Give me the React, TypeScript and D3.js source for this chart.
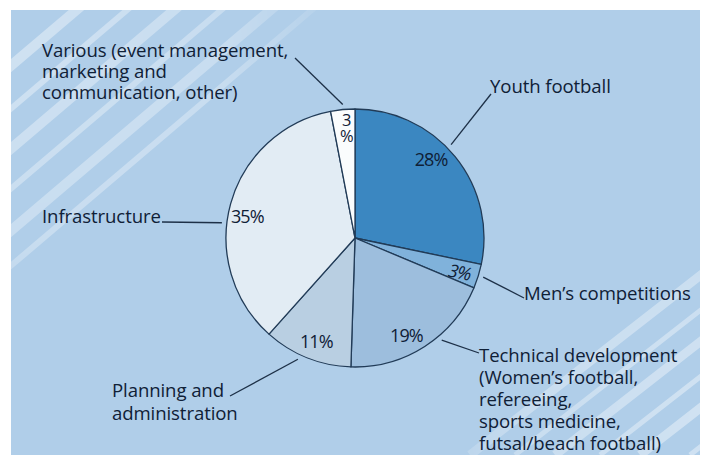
import React from 'react';
import * as d3 from 'd3';

// budget shares in percent, clockwise from 12 o'clock
const categories = [
  'Youth football',
  'Men’s competitions',
  'Technical development',
  'Planning and administration',
  'Infrastructure',
  'Various',
];
const shares = [28, 3, 19, 11, 35, 3];
const labelLines = [
  ['Youth football'],
  ['Men’s competitions'],
  ['Technical development', '(Women’s football,', 'refereeing,', 'sports medicine,', 'futsal/beach football)'],
  ['Planning and', 'administration'],
  ['Infrastructure'],
  ['Various (event management,', 'marketing and', 'communication, other)'],
];
const fills = ['#3b87c1', '#80b2db', '#9dbedd', '#b9cfe2', '#e2ecf4', '#fafcfd'];

// label placement: fraction along each slice for leader and percent, leader end, text anchor
const layout = [
  { leaderFrac: 0.45, pctFrac: 0.43, end: [491, 94], text: [490, 93], lh: 22 },
  { leaderFrac: 0.47, pctFrac: 0.55, end: [524, 298], text: [524, 300], lh: 22 },
  { leaderFrac: 0.39, pctFrac: 0.57, end: [479, 353], text: [479, 362], lh: 22 },
  { leaderFrac: 0.585, pctFrac: 0.47, end: [230, 396], text: [112, 397], lh: 23 },
  { leaderFrac: 0.43, pctFrac: 0.47, end: [162, 222], text: [42, 223], lh: 22 },
  { leaderFrac: 0.52, pctFrac: 0.61, end: [295, 58], text: [42, 57], lh: 21 },
];

const topLeftStripes = [75, 118, 158, 198, 240, 275];
const bottomRightStripes = [470, 515, 555, 600, 640, 690, 735, 780];

const W = 707;
const H = 455;
const cx = 355;
const cy = 238;
const R = 129;
const ink = '#0f2036';

const polar = (a: number, r: number) => [cx + r * Math.sin(a), cy - r * Math.cos(a)];

const App = () => {
  const pie = d3.pie<number>().sort(null).value((d) => d);
  const arcs = pie(shares);
  const arc = d3.arc<d3.PieArcDatum<number>>().innerRadius(0).outerRadius(R);
  const slopeTL = 0.85;
  const slopeBR = 0.78;

  return (
    <svg width={W} height={H} style={{ position: 'absolute', left: 0, top: 0 }}>
      <defs>
        <clipPath id="bg">
          <rect x={11} y={10} width={689} height={H - 10} />
        </clipPath>
        <radialGradient id="fadeTL" cx={20} cy={40} r={340} gradientUnits="userSpaceOnUse">
          <stop offset="0" stopColor="#fff" stopOpacity="1" />
          <stop offset="0.6" stopColor="#fff" stopOpacity="0.75" />
          <stop offset="1" stopColor="#fff" stopOpacity="0" />
        </radialGradient>
        <radialGradient id="fadeBR" cx={720} cy={420} r={320} gradientUnits="userSpaceOnUse">
          <stop offset="0" stopColor="#fff" stopOpacity="1" />
          <stop offset="0.6" stopColor="#fff" stopOpacity="0.75" />
          <stop offset="1" stopColor="#fff" stopOpacity="0" />
        </radialGradient>
        <mask id="mTL"><rect width={W} height={H} fill="url(#fadeTL)" /></mask>
        <mask id="mBR"><rect width={W} height={H} fill="url(#fadeBR)" /></mask>
      </defs>
      <rect width={W} height={H} fill="#fff" />
      <g clipPath="url(#bg)">
        <rect x={11} y={10} width={689} height={H - 10} fill="#b0cee9" />
        <g mask="url(#mTL)">
          {topLeftStripes.map((c, i) => (
            <line key={c} x1={0} y1={c} x2={c / slopeTL} y2={0}
              stroke="#fff" strokeOpacity={0.4} strokeWidth={i % 2 ? 6 : 10} />
          ))}
        </g>
        <g mask="url(#mBR)">
          {bottomRightStripes.map((c, i) => (
            <line key={c} x1={c} y1={H} x2={c + H / slopeBR} y2={0}
              stroke="#fff" strokeOpacity={0.42} strokeWidth={i % 2 ? 5 : 9} />
          ))}
        </g>
      </g>

      <g transform={`translate(${cx},${cy})`}>
        {arcs.map((a, i) => (
          <path key={categories[i]} d={arc(a) as string} fill={fills[i]}
            stroke="#213b57" strokeWidth={1.3} strokeLinejoin="round" />
        ))}
      </g>

      <g fontFamily="'Open Sans', sans-serif" fill={ink}>
        {arcs.map((a, i) => {
          const l = layout[i];
          const la = a.startAngle + (a.endAngle - a.startAngle) * l.leaderFrac;
          const [x1, y1] = polar(la, 134);
          const pa = a.startAngle + (a.endAngle - a.startAngle) * l.pctFrac;
          const [px, py] = polar(pa, 110);
          const pct = `${shares[i]}%`;
          return (
            <g key={categories[i]}>
              <line x1={x1} y1={y1} x2={l.end[0]} y2={l.end[1]} stroke="#1d3047" strokeWidth={1.3} />
              <text fontSize={18.6} letterSpacing={-0.1}>
                {labelLines[i].map((t, j) => (
                  <tspan key={t} x={l.text[0]} y={l.text[1] + j * l.lh}>{t}</tspan>
                ))}
              </text>
              {i === 5 ? (
                <g fontSize={16.5} textAnchor="middle">
                  <text x={px} y={py - 2}>{String(shares[i])}</text>
                  <text x={px} y={py + 14}>%</text>
                </g>
              ) : (
                <text
                  x={px}
                  y={py}
                  fontSize={18}
                  textAnchor="middle"
                  dominantBaseline="central"
                  letterSpacing={-0.9}
                  fontStyle={i === 1 ? 'italic' : 'normal'}
                  transform={i === 1 ? `rotate(12 ${px} ${py})` : undefined}
                >
                  {pct}
                </text>
              )}
            </g>
          );
        })}
      </g>
    </svg>
  );
};

export default App;
